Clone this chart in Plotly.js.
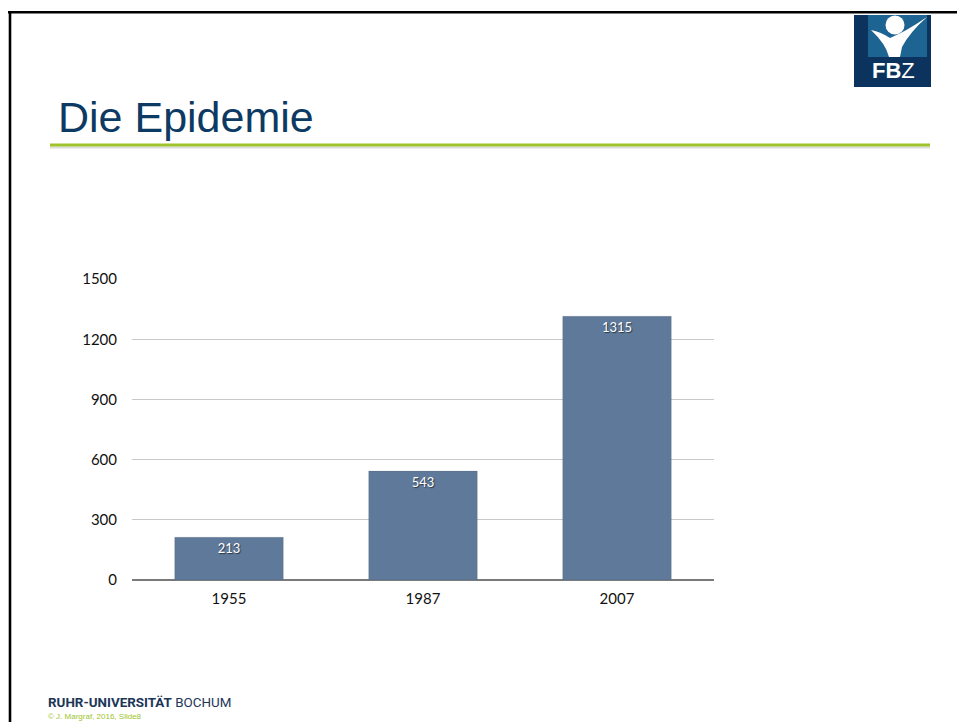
<!DOCTYPE html>
<html>
<head>
<meta charset="utf-8">
<script src="https://cdn.plot.ly/plotly-3.0.1.min.js"></script>
<style>
  html, body { margin: 0; padding: 0; background: #ffffff; }
  #chart { width: 957px; height: 722px; }
</style>
</head>
<body>
<div id="chart"></div>
<script>
// Chart data
const years = ['1955', '1987', '2007'];
const cases = [213, 543, 1315];
const yTicks = [0, 300, 600, 900, 1200, 1500];

// Page geometry (pixels) of the plotting area
const FIG_W = 957, FIG_H = 722;
const PLOT_L = 132, PLOT_R = 714, PLOT_T = 279, PLOT_B = 580;
const PW = PLOT_R - PLOT_L, PH = PLOT_B - PLOT_T;

// Convert page pixels to paper coordinates
const px = x => (x - PLOT_L) / PW;
const py = y => (PLOT_B - y) / PH;
// Build an SVG path string from page-pixel commands
const pathOf = parts => parts.map(p => typeof p === 'string' ? p : px(p[0]) + ' ' + py(p[1])).join(' ');

const NAVY = '#0c3a63';
const GREEN = '#9ec42c';

const shapes = [
  // slide frame (top and left edges)
  {type: 'line', xref: 'paper', yref: 'paper', x0: px(8), x1: px(960), y0: py(12.2), y1: py(12.2),
   line: {color: '#000000', width: 2.6}},
  {type: 'line', xref: 'paper', yref: 'paper', x0: px(10), x1: px(10), y0: py(11), y1: py(730),
   line: {color: '#000000', width: 2.6}},
  // green rule under the heading, with a faint shadow
  {type: 'line', xref: 'paper', yref: 'paper', x0: px(50), x1: px(930), y0: py(147.5), y1: py(147.5),
   line: {color: '#dcdcdc', width: 2}},
  {type: 'line', xref: 'paper', yref: 'paper', x0: px(50), x1: px(930), y0: py(145), y1: py(145),
   line: {color: GREEN, width: 3}},
  // FBZ logo: navy tile, lighter square, figure with raised arms
  {type: 'rect', xref: 'paper', yref: 'paper', x0: px(854), x1: px(931), y0: py(15), y1: py(87),
   fillcolor: '#0b335e', line: {width: 0}},
  {type: 'rect', xref: 'paper', yref: 'paper', x0: px(868), x1: px(927), y0: py(15), y1: py(57),
   fillcolor: '#1d6493', line: {width: 0}},
  {type: 'circle', xref: 'paper', yref: 'paper', x0: px(885.5), x1: px(904.5), y0: py(15.5), y1: py(34.5),
   fillcolor: '#ffffff', line: {width: 0}},
  {type: 'path', xref: 'paper', yref: 'paper',
   path: pathOf(['M', [871, 30], 'Q', [881, 32], [890, 38], 'Q', [905, 32], [927, 17],
                 'Q', [910, 32], [902, 47], 'L', [900, 57], 'L', [889, 57],
                 'Q', [886, 44], [871, 30], 'Z']),
   fillcolor: '#ffffff', line: {width: 0}}
];

const annotations = [
  {text: 'Die Epidemie', xref: 'paper', yref: 'paper', x: px(56), y: py(117),
   xanchor: 'left', yanchor: 'middle', showarrow: false,
   font: {family: 'Liberation Sans, Arial, sans-serif', size: 43, color: NAVY}},
  {text: '<b>FB</b>Z', xref: 'paper', yref: 'paper', x: px(893), y: py(71),
   xanchor: 'center', yanchor: 'middle', showarrow: false,
   font: {family: 'Liberation Sans, Arial, sans-serif', size: 22, color: '#ffffff'}},
  {text: '<b>RUHR-UNIVERSITÄT</b> BOCHUM', xref: 'paper', yref: 'paper', x: px(47), y: py(702),
   xanchor: 'left', yanchor: 'middle', showarrow: false, borderpad: 0,
   font: {family: 'Roboto, Liberation Sans, sans-serif', size: 13.4, color: '#1c3658'}},
  {text: '© J. Margraf, 2016, Slide8', xref: 'paper', yref: 'paper', x: px(47), y: py(722),
   xanchor: 'left', yanchor: 'bottom', showarrow: false, borderpad: 0,
   font: {family: 'Liberation Sans, Arial, sans-serif', size: 8, color: GREEN}}
];

const trace = {
  type: 'bar',
  x: years,
  y: cases,
  text: cases.map(String),
  textposition: 'inside',
  insidetextanchor: 'end',
  textangle: 0,
  textfont: {family: 'Lato, Open Sans, sans-serif', size: 13, color: '#ffffff',
             shadow: '1px 1px 1px rgba(0,0,0,0.55)'},
  marker: {color: '#5e7999', line: {color: 'rgba(60,60,60,0.12)', width: 1}},
  hoverinfo: 'x+y',
  cliponaxis: false
};

const layout = {
  width: FIG_W,
  height: FIG_H,
  margin: {l: PLOT_L, r: FIG_W - PLOT_R, t: PLOT_T, b: FIG_H - PLOT_B, pad: 0},
  paper_bgcolor: '#ffffff',
  plot_bgcolor: '#ffffff',
  showlegend: false,
  bargap: 0.44,
  font: {family: 'Lato, Open Sans, sans-serif', color: '#111111'},
  xaxis: {
    type: 'category',
    showgrid: false,
    showline: false,
    ticks: '',
    ticklabelstandoff: 8,
    tickfont: {family: 'Lato, Open Sans, sans-serif', size: 15, color: '#111111'},
    fixedrange: true
  },
  yaxis: {
    range: [0, 1501],
    tickvals: yTicks,
    ticktext: yTicks.map(String),
    showgrid: true,
    gridcolor: '#c9c9c9',
    gridwidth: 1,
    zeroline: true,
    zerolinecolor: '#7a7a7a',
    zerolinewidth: 2,
    showline: false,
    ticks: '',
    ticklabelstandoff: 14,
    tickfont: {family: 'Lato, Open Sans, sans-serif', size: 15, color: '#111111'},
    fixedrange: true
  },
  shapes: shapes,
  annotations: annotations
};

Plotly.newPlot('chart', [trace], layout, {displayModeBar: false, staticPlot: true});
</script>
</body>
</html>
